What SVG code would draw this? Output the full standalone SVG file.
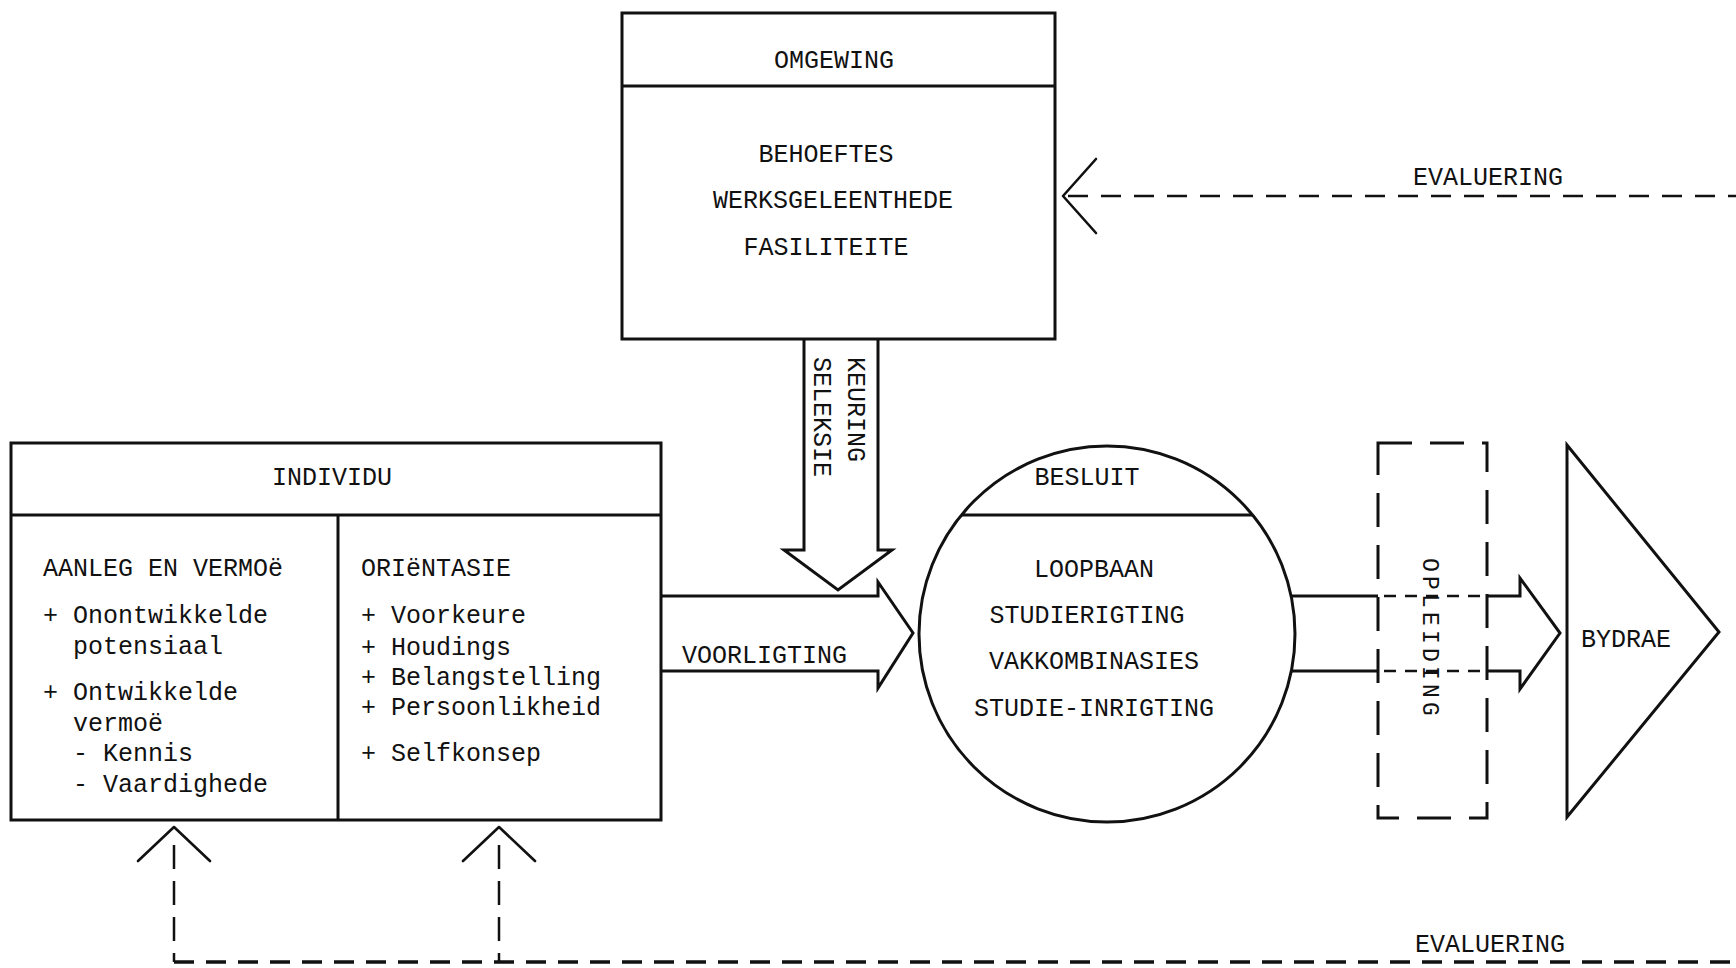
<svg xmlns="http://www.w3.org/2000/svg" width="1736" height="968" viewBox="0 0 1736 968">
<style>
.ln{fill:none;stroke:#111;stroke-width:3;stroke-linejoin:miter}
.ar{fill:none;stroke:#111;stroke-width:2.6;stroke-linecap:round;stroke-linejoin:round}
.d1{fill:none;stroke:#111;stroke-width:2.5;stroke-dasharray:20 13}
.d2{fill:none;stroke:#111;stroke-width:3.5;stroke-dasharray:20 12}
.d3{fill:none;stroke:#111;stroke-width:2.5;stroke-dasharray:24 12}
.d4{fill:none;stroke:#111;stroke-width:3;stroke-dasharray:34 18}
.d5{fill:none;stroke:#111;stroke-width:2.5;stroke-dasharray:12 9}
.t{font-family:"Liberation Mono","DejaVu Sans Mono",monospace;font-size:25px;fill:#111}
.c{text-anchor:middle}
</style>
<rect width="1736" height="968" fill="#fff"/>

<g id="omgewing">
<rect class="ln" x="622" y="13" width="433" height="326"/>
<line class="ln" x1="622" y1="86" x2="1055" y2="86"/>
<text class="t c" x="834" y="68">OMGEWING</text>
<text class="t c" x="826" y="162">BEHOEFTES</text>
<text class="t c" x="833" y="208">WERKSGELEENTHEDE</text>
<text class="t c" x="826" y="255">FASILITEITE</text>
</g>

<g id="individu">
<rect class="ln" x="11" y="443" width="650" height="377"/>
<line class="ln" x1="11" y1="515" x2="661" y2="515"/>
<line class="ln" x1="338" y1="515" x2="338" y2="820"/>
<text class="t c" x="332" y="485">INDIVIDU</text>
<text class="t" x="43" y="576">AANLEG EN VERMOë</text>
<text class="t" x="43" y="623">+ Onontwikkelde</text>
<text class="t" x="73" y="654">potensiaal</text>
<text class="t" x="43" y="700">+ Ontwikkelde</text>
<text class="t" x="73" y="731">vermoë</text>
<text class="t" x="73" y="761">- Kennis</text>
<text class="t" x="73" y="792">- Vaardighede</text>
<text class="t" x="361" y="576">ORIëNTASIE</text>
<text class="t" x="361" y="623">+ Voorkeure</text>
<text class="t" x="361" y="655">+ Houdings</text>
<text class="t" x="361" y="685">+ Belangstelling</text>
<text class="t" x="361" y="715">+ Persoonlikheid</text>
<text class="t" x="361" y="761">+ Selfkonsep</text>
</g>

<g id="besluit">
<circle class="ln" cx="1107" cy="634" r="188"/>
<line class="ln" x1="961" y1="515" x2="1253" y2="515"/>
<text class="t c" x="1087" y="485">BESLUIT</text>
<text class="t c" x="1094" y="577">LOOPBAAN</text>
<text class="t c" x="1087" y="623">STUDIERIGTING</text>
<text class="t c" x="1094" y="669">VAKKOMBINASIES</text>
<text class="t c" x="1094" y="716">STUDIE-INRIGTING</text>
</g>

<g id="opleiding">
<rect class="d4" x="1378" y="443" width="109" height="375"/>
<text class="t" transform="translate(1423,558) rotate(90)" style="font-size:23px;letter-spacing:4.2px">OPLEIDING</text>
</g>

<g id="bydrae">
<polygon class="ln" points="1567,445 1719,632 1567,817"/>
<text class="t c" x="1626" y="647">BYDRAE</text>
</g>

<g id="connectors">
<!-- keuring / seleksie arrow -->
<polyline class="ln" points="804,339 804,550 784,550 838,590 892,550 878,550 878,339"/>
<text class="t" transform="translate(848,357) rotate(90)">KEURING</text>
<text class="t" transform="translate(814,357) rotate(90)">SELEKSIE</text>
<!-- voorligting arrow -->
<polyline class="ln" points="661,596 878,596 878,582 913,633 878,688 878,671 661,671"/>
<text class="t" x="682" y="663">VOORLIGTING</text>
<!-- besluit to bydrae arrow -->
<line class="ln" x1="1291" y1="596" x2="1378" y2="596"/>
<line class="ln" x1="1291" y1="671" x2="1378" y2="671"/>
<line class="d5" x1="1384" y1="596" x2="1487" y2="596"/>
<line class="d5" x1="1384" y1="671" x2="1487" y2="671"/>
<polyline class="ln" points="1487,596 1520,596 1520,578 1560,633 1520,689 1520,671 1487,671"/>
<!-- top evaluation -->
<polyline class="ar" points="1096,159 1063,196 1096,233"/>
<line class="d1" x1="1068" y1="196" x2="1736" y2="196"/>
<text class="t c" x="1488" y="185">EVALUERING</text>
<!-- bottom evaluation -->
<polyline class="ar" points="138,861 174,827 210,861"/>
<polyline class="ar" points="463,861 499,827 535,861"/>
<line class="d3" x1="174" y1="845" x2="174" y2="962"/>
<line class="d3" x1="499" y1="845" x2="499" y2="962"/>
<line class="d2" x1="174" y1="962" x2="1736" y2="962"/>
<text class="t c" x="1490" y="952">EVALUERING</text>
</g>
</svg>
